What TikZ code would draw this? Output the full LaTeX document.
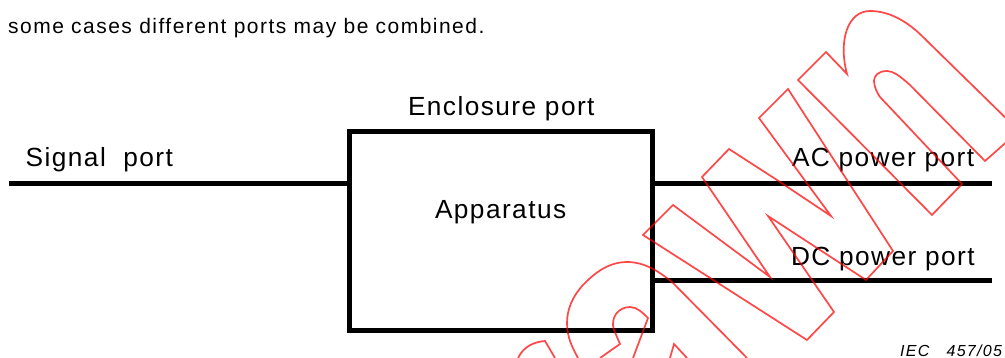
\documentclass[tikz,border=0pt]{standalone}
\usepackage{fontspec}
\setmainfont{Liberation Sans}
\newfontfamily\labelfont[LetterSpace=5.5]{Liberation Sans}
\newfontfamily\bodyfont[LetterSpace=7]{Liberation Sans}
\newfontfamily\ieclabel[LetterSpace=8,ItalicFont={Liberation Sans Italic}]{Liberation Sans}
\begin{document}
\begin{tikzpicture}[x=1pt,y=-1pt,
  wire/.style={line width=5pt,black},
  portbox/.style={draw=black,line width=5pt,rectangle,minimum width=303pt,minimum height=199pt,outer sep=0pt,inner sep=0pt},
  lbl/.style={anchor=base west,inner sep=0pt,outer sep=0pt,font=\labelfont\fontsize{26.25}{30}\selectfont},
  bodytext/.style={anchor=base west,inner sep=0pt,font=\bodyfont\fontsize{21}{24}\selectfont},
  ieclbl/.style={anchor=base west,inner sep=0pt,font=\ieclabel\itshape\fontsize{16}{20}\selectfont},
  watermark/.style={draw=red,opacity=0.72,line width=1.7pt,line join=miter}]
\useasboundingbox (0,0) rectangle (1005,358);
\node[bodytext] (note) at (8,33.5) {some cases different ports may be combined.};
\node[lbl] (encl) at (408,116) {Enclosure port};
\node[lbl] (sig) at (25.7,166.7) {Signal\ \ port};
\node[lbl] (app) at (435,219) {Apparatus};
\node[lbl] (acl) at (792,166.7) {AC power port};
\node[lbl] (dcl) at (791,265.3) {DC power port};
\node[ieclbl] (iec) at (900,356.3) {IEC\ \ \ 457/05};
\node[portbox] (box) at (501,231) {};
\coordinate (sigend) at (9,183.5);
\coordinate (acend) at (992,183.5);
\coordinate (dcend) at (992,280.5);
\draw[wire] (sigend) -- (sigend -| box.west);
\draw[wire] (acend) -- (acend -| box.east);
\draw[wire] (dcend) -- (dcend -| box.east);
\begin{scope}
\clip (0,0) rectangle (1005,358);
% n
\path[watermark] (798,80) -- (826,52) -- (847,74) .. controls (838,40) and (848,11) .. (870,11) .. controls (890,11) and (908,22) .. (923,37) -- (1019,131) -- (985,161) -- (910,85) .. controls (900,76) and (893,71) .. (887,71) .. controls (878,71) and (874,76) .. (874,81) .. controls (874,86) and (877,93) .. (880,97) -- (962,184) -- (932,215) -- cycle;
% W
\path[watermark] (759,118) -- (788,89) -- (893,251) -- (866,280) -- (768,216) -- (834,312) -- (807,340) -- (643,235) -- (673,205) -- (770,277) -- (702,177) -- (729,149) -- (777,180) -- (831,216) -- cycle;
% D outer
\path[watermark] (747,358) -- (673,283) .. controls (660,272) and (645,262) .. (627,262) .. controls (605,262) and (590,278) .. (583,285) .. controls (572,297) and (567,310) .. (567,323) .. controls (567,337) and (572,347) .. (578,358);
% D inner
\path[watermark] (600,358) -- (620,344) -- (614,330) .. controls (610,318) and (618,307) .. (630,307) .. controls (637,307) and (643,313) .. (648,318) -- (633,358);
% A and R fragments
\path[watermark] (518,358) .. controls (524,346) and (534,342) .. (545,341) -- (555,358);
\path[watermark] (670,358) -- (674,344) -- (687,358);
\end{scope}
\end{tikzpicture}
\end{document}
